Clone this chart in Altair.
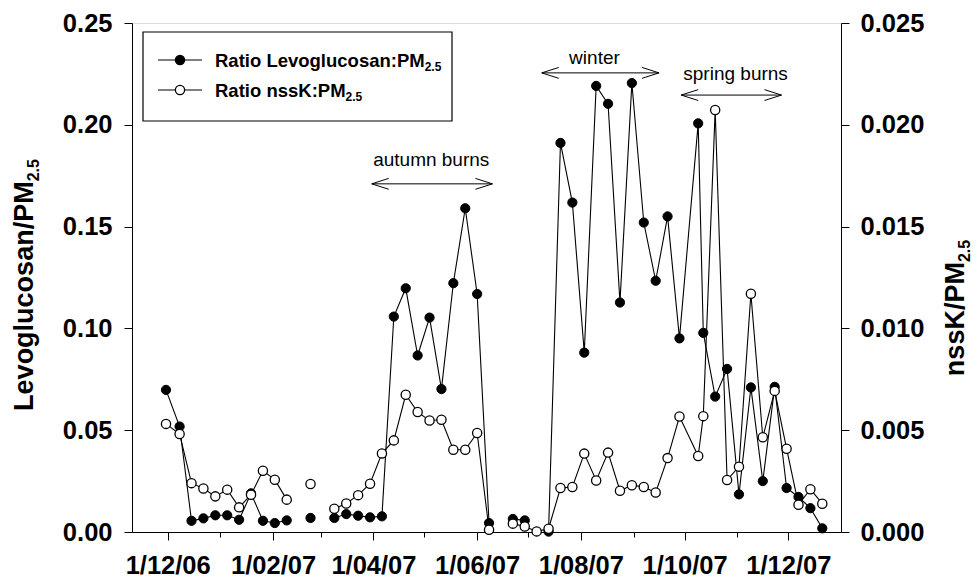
import altair as alt
import pandas as pd

# ---------------- data ----------------
dates = ["2006-11-30", "2006-12-08", "2006-12-15", "2006-12-22", "2006-12-29",
         "2007-01-05", "2007-01-12", "2007-01-19", "2007-01-26", "2007-02-02",
         "2007-02-09", "2007-02-16", "2007-02-23", "2007-03-02", "2007-03-09",
         "2007-03-16", "2007-03-23", "2007-03-30", "2007-04-06", "2007-04-13",
         "2007-04-20", "2007-04-27", "2007-05-04", "2007-05-11", "2007-05-18",
         "2007-05-25", "2007-06-01", "2007-06-08", "2007-06-15", "2007-06-22",
         "2007-06-29", "2007-07-06", "2007-07-13", "2007-07-20", "2007-07-27",
         "2007-08-03", "2007-08-10", "2007-08-17", "2007-08-24", "2007-08-31",
         "2007-09-07", "2007-09-14", "2007-09-21", "2007-09-28", "2007-10-09",
         "2007-10-12", "2007-10-19", "2007-10-26", "2007-11-02", "2007-11-09",
         "2007-11-16", "2007-11-23", "2007-11-30", "2007-12-07", "2007-12-14",
         "2007-12-21"]

levo = [0.0698, 0.0518, 0.0055, 0.0067, 0.0082,
        0.0082, 0.0060, 0.0190, 0.0055, 0.0044,
        0.0057, None, 0.0069, None, 0.0069,
        0.0088, 0.0080, 0.0072, 0.0077, 0.1058,
        0.1197, 0.0867, 0.1053, 0.0702, 0.1222,
        0.1590, 0.1169, 0.0044, None, 0.0064,
        0.0057, None, 0.0002, 0.1911, 0.1618,
        0.0881, 0.2191, 0.2103, 0.1127, 0.2205,
        0.1520, 0.1234, 0.1550, 0.0951, 0.2007,
        0.0978, 0.0665, 0.0801, 0.0185, 0.0710,
        0.0250, 0.0713, 0.0216, 0.0172, 0.0117,
        0.0018]

nssk = [0.00531, 0.00481, 0.00240, 0.00214, 0.00175,
        0.00208, 0.00121, 0.00183, 0.00301, 0.00257,
        0.00159, None, 0.00236, None, 0.00114,
        0.00140, 0.00181, 0.00237, 0.00386, 0.00450,
        0.00674, 0.00589, 0.00548, 0.00551, 0.00404,
        0.00404, 0.00486, 0.00011, None, 0.00041,
        0.00027, 0.00003, 0.00016, 0.00216, 0.00221,
        0.00385, 0.00253, 0.00390, 0.00203, 0.00230,
        0.00221, 0.00194, 0.00363, 0.00567, 0.00373,
        0.00569, 0.02073, 0.00255, 0.00321, 0.01170,
        0.00465, 0.00693, 0.00409, 0.00134, 0.00210,
        0.00139]

ann_labels = ["autumn burns", "winter", "spring burns"]
ann_start = ["2007-03-31", "2007-07-09", "2007-09-29"]
ann_end = ["2007-06-10", "2007-09-16", "2007-11-27"]
ann_arrow_y = [0.171, 0.2255, 0.2146]
ann_text_date = ["2007-05-05", "2007-08-09", "2007-10-31"]
ann_text_y = [0.1827, 0.2327, 0.225]

legend_labels = ["Ratio Levoglucosan:PM", "Ratio nssK:PM"]
legend_sub = ["2.5", "2.5"]
left_title, right_title, title_sub = "Levoglucosan/PM", "nssK/PM", "2.5"

left_ticks = [0.0, 0.05, 0.10, 0.15, 0.20, 0.25]
right_ticks = [0.0, 0.005, 0.010, 0.015, 0.020, 0.025]

# ---------------- styling helpers ----------------
FONT = "Liberation Sans"
W = 709
H = 509
TICK_FS = 25.5
TITLE_FS = 27
SUB_FS = 16
LEG_FS = 18.5
LEG_SUB_FS = 12

AB = {' ': 278, '.': 278, '/': 278, ':': 333, 'K': 722, 'L': 611, 'M': 833,
      'P': 667, 'R': 722, 'a': 556, 'c': 556, 'e': 556, 'g': 611, 'i': 278,
      'l': 278, 'n': 611, 'o': 611, 's': 556, 't': 333, 'u': 611, 'v': 556}
for d in "0123456789":
    AB[d] = 556


def tw(s, size):
    return sum(AB.get(c, 556) for c in s) * size / 1000.0


def segs(vals):
    out, s = [], 0
    for v in vals:
        if v is None:
            s += 1
            out.append(None)
        else:
            out.append(s)
    return out


df_l = pd.DataFrame({"date": dates, "levo": levo, "seg": segs(levo)}).dropna()
df_n = pd.DataFrame({"date": dates, "nssk": nssk, "seg": segs(nssk)}).dropna()
df_ann = pd.DataFrame({"label": ann_labels, "start": ann_start, "end": ann_end,
                       "ay": ann_arrow_y, "tdate": ann_text_date, "ty": ann_text_y})

month_vals = []
for y, m in [(2006, 12)] + [(2007, k) for k in range(1, 13)]:
    month_vals.append(alt.DateTime(year=y, month=m, date=1, utc=True))

xscale = alt.Scale(type="utc",
                   domain=[alt.DateTime(year=2006, month=11, date=10, utc=True),
                           alt.DateTime(year=2008, month=1, date=1, utc=True)])
xaxis = alt.Axis(values=month_vals, title=None, grid=False,
                 labelExpr="utcmonth(datum.value) % 2 == 1 ? '1/' + utcFormat(datum.value, '%m/%y') : ''",
                 tickSize={"condition": {"test": "utcmonth(datum.value) % 2 == 1", "value": 8}, "value": 5},
                 labelFont=FONT, labelFontSize=TICK_FS, labelFontWeight="bold",
                 labelColor="black", labelPadding=13, labelOverlap=False,
                 domainColor="black", tickColor="black", domainWidth=1, tickWidth=1)

lscale = alt.Scale(domain=[0, 0.25], nice=False, zero=True)
rscale = alt.Scale(domain=[0, 0.025], nice=False, zero=True)
laxis = alt.Axis(values=left_ticks, format=".2f", title=None, grid=False,
                 labelFont=FONT, labelFontSize=TICK_FS, labelFontWeight="bold",
                 labelColor="black", tickSize=8, labelPadding=12,
                 domainColor="black", tickColor="black", labelBaseline="middle")
raxis = alt.Axis(values=right_ticks, format=".3f", title=None, grid=False, orient="right",
                 labelFont=FONT, labelFontSize=TICK_FS, labelFontWeight="bold",
                 labelColor="black", tickSize=8, labelPadding=11,
                 domainColor="black", tickColor="black", labelBaseline="middle")

X = alt.X("date:T", scale=xscale, axis=xaxis)

# ---------------- series ----------------
levo_line = alt.Chart(df_l).mark_line(color="black", strokeWidth=1.1).encode(
    x=X, y=alt.Y("levo:Q", scale=lscale, axis=laxis), detail="seg:N")
levo_pts = alt.Chart(df_l).mark_circle(size=85, fill="black", stroke="black",
                                       strokeWidth=1, opacity=1).encode(
    x=X, y=alt.Y("levo:Q", scale=lscale, axis=laxis))

arrow_rule = alt.Chart(df_ann).mark_rule(color="black", strokeWidth=1).encode(
    x=alt.X("start:T", scale=xscale, axis=xaxis), x2="end:T",
    y=alt.Y("ay:Q", scale=lscale, axis=laxis))
head_l = alt.Chart(df_ann).mark_point(shape="M0,0L1,-0.32M0,0L1,0.32", size=1156,
                                      filled=False, stroke="black", strokeWidth=1,
                                      opacity=1).encode(
    x=alt.X("start:T", scale=xscale, axis=xaxis), y=alt.Y("ay:Q", scale=lscale, axis=laxis))
head_r = alt.Chart(df_ann).mark_point(shape="M0,0L-1,-0.32M0,0L-1,0.32", size=1156,
                                      filled=False, stroke="black", strokeWidth=1,
                                      opacity=1).encode(
    x=alt.X("end:T", scale=xscale, axis=xaxis), y=alt.Y("ay:Q", scale=lscale, axis=laxis))
ann_text = alt.Chart(df_ann).mark_text(font=FONT, fontSize=19, color="black",
                                       baseline="middle", align="center").encode(
    x=alt.X("tdate:T", scale=xscale, axis=xaxis), y=alt.Y("ty:Q", scale=lscale, axis=laxis),
    text="label:N")

levo_group = alt.layer(levo_line, levo_pts, arrow_rule, head_l, head_r, ann_text)

nssk_line = alt.Chart(df_n).mark_line(color="black", strokeWidth=1.1).encode(
    x=X, y=alt.Y("nssk:Q", scale=rscale, axis=raxis), detail="seg:N")
nssk_pts = alt.Chart(df_n).mark_circle(size=85, fill="white", stroke="black",
                                       strokeWidth=1.3, opacity=1).encode(
    x=X, y=alt.Y("nssk:Q", scale=rscale, axis=raxis))
nssk_group = alt.layer(nssk_line, nssk_pts)

# ---------------- legend (drawn inside the plot) ----------------
LBX0, LBX1, LBY0, LBY1 = 11, 320, 9, 98
rows_y = [37, 67]
leg_box = alt.Chart(pd.DataFrame({"k": [0]})).mark_rect(
    fill="white", stroke="black", strokeWidth=1.2).encode(
    x=alt.value(LBX0), x2=alt.value(LBX1), y=alt.value(LBY0), y2=alt.value(LBY1))
leg_layers = [leg_box]
fills = ["black", "white"]
for i in range(2):
    one = pd.DataFrame({"t": [legend_labels[i]], "s": [legend_sub[i]]})
    leg_layers.append(alt.Chart(one).mark_rule(color="black", strokeWidth=1.1).encode(
        x=alt.value(26), x2=alt.value(70), y=alt.value(rows_y[i])))
    leg_layers.append(alt.Chart(one).mark_circle(size=85, fill=fills[i], stroke="black",
                                                 strokeWidth=1.3, opacity=1).encode(
        x=alt.value(48), y=alt.value(rows_y[i])))
    leg_layers.append(alt.Chart(one).mark_text(font=FONT, fontSize=LEG_FS, fontWeight="bold",
                                               align="left", baseline="alphabetic",
                                               color="black").encode(
        x=alt.value(83), y=alt.value(rows_y[i] + 6.5), text="t:N"))
    leg_layers.append(alt.Chart(one).mark_text(font=FONT, fontSize=LEG_SUB_FS, fontWeight="bold",
                                               align="left", baseline="alphabetic",
                                               color="black").encode(
        x=alt.value(83 + tw(legend_labels[i], LEG_FS)), y=alt.value(rows_y[i] + 11), text="s:N"))

# ---------------- axis titles with subscripts ----------------
title_layers = []
for txt, xb, yc in [(left_title, -99, 262), (right_title, 832, 285)]:
    wm = tw(txt, TITLE_FS)
    ws = tw(title_sub, SUB_FS)
    y0 = yc + (wm + ws) / 2.0
    one = pd.DataFrame({"t": [txt], "s": [title_sub]})
    title_layers.append(alt.Chart(one).mark_text(font=FONT, fontSize=TITLE_FS, fontWeight="bold",
                                                 align="left", baseline="alphabetic", angle=270,
                                                 color="black").encode(
        x=alt.value(xb), y=alt.value(y0), text="t:N"))
    title_layers.append(alt.Chart(one).mark_text(font=FONT, fontSize=SUB_FS, fontWeight="bold",
                                                 align="left", baseline="alphabetic", angle=270,
                                                 color="black", dx=wm, dy=6).encode(
        x=alt.value(xb), y=alt.value(y0), text="s:N"))

chart = alt.layer(levo_group, nssk_group, *leg_layers, *title_layers).resolve_scale(
    y="independent"
).properties(
    width=W, height=H,
    autosize=alt.AutoSizeParams(type="none"),
    padding={"left": 132, "top": 23, "right": 137, "bottom": 47},
).configure_view(stroke="black", strokeWidth=1.2).configure(background="white")

chart.save("out.html", embed_options={"renderer": "svg", "actions": False})
